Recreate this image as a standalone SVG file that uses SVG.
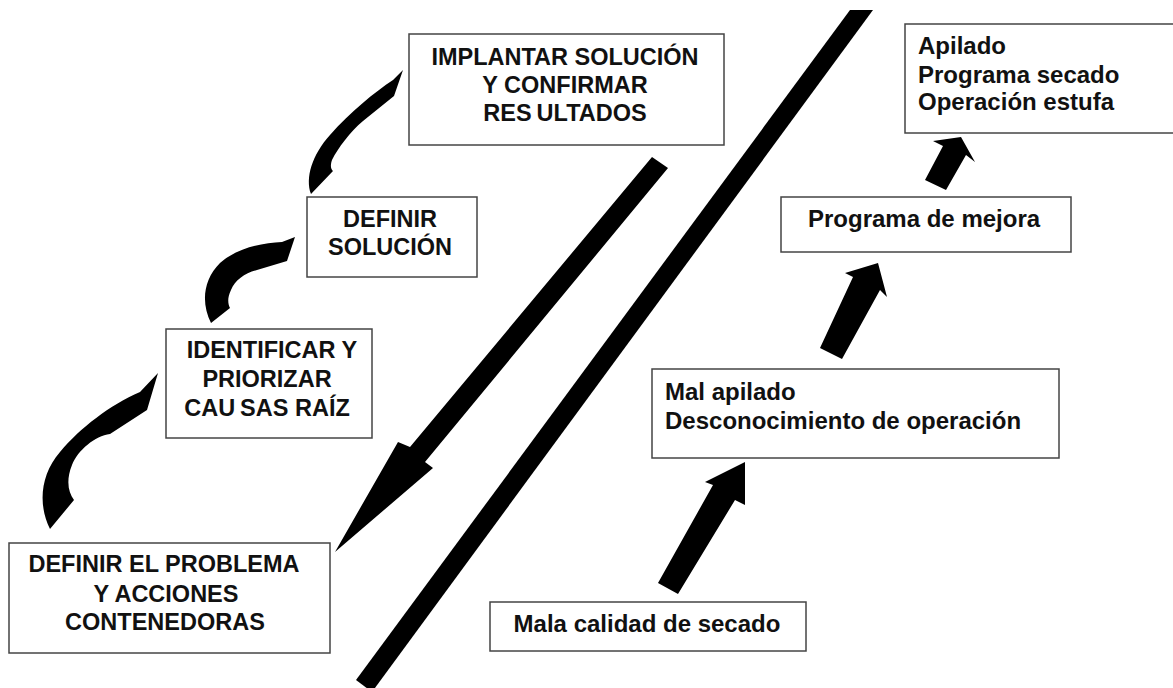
<svg xmlns="http://www.w3.org/2000/svg" width="1173" height="688" viewBox="0 0 1173 688">
<style>
.box{fill:#fff;stroke:#444;stroke-width:1.5}
.t{font-family:"Liberation Sans",Arial,sans-serif;font-weight:bold;fill:#111}
.c{text-anchor:middle;font-size:23.5px}
.l{font-size:24px}
.blk{fill:#000}
</style>
<rect width="1173" height="688" fill="#fff"/>
<g id="connectors">
<polygon id="slash" class="blk" points="850,10 873,10 372,692 356,680"/>
<polygon id="big-arrow" class="blk" points="652,157 668,168 425,462 433,468 335,552 398,442 410,447"/>
<path id="curve1" class="blk" d="M50,529 C38,505 40,475 60,452 C80,428 110,405 140,392 L158,373 L147,410 L110,434 C95,436 78,450 72,465 C66,480 68,492 74,500 Z"/>
<path id="curve2" class="blk" d="M211,323 C201,303 203,280 220,263 C237,248 262,243 282,242 L295,237 L287,261 L257,270 C245,273 235,280 231,290 C227,298 228,304 230,308 Z"/>
<path id="curve3" class="blk" d="M311,194 C305,178 312,155 330,135 C350,112 375,92 393,80 L403,70 L394,96 L363,121 C350,132 338,148 332,160 C330,166 331,169 333,171 Z"/>
<polygon id="up1" class="blk" points="658,583 678,594 735,500 745,505 745,462 705,482 713,485"/>
<polygon id="up2" class="blk" points="820,348 842,359 880,290 887,297 878,263 845,273 853,277"/>
<polygon id="up3" class="blk" points="925,180 946,190 966,155 975,162 961,137 933,141 943,146"/>
</g>
<g id="implantar">
<rect class="box" x="409" y="34" width="315" height="111"/>
<text class="t c" x="565" y="65">IMPLANTAR SOLUCIÓN</text>
<text class="t c" x="565" y="93">Y CONFIRMAR</text>
<text class="t c" x="565" y="121">RES<tspan dx="5">ULTADOS</tspan></text>
</g>
<g id="definir-solucion">
<rect class="box" x="307" y="197" width="170" height="80"/>
<text class="t c" x="390" y="227">DEFINIR</text>
<text class="t c" x="390" y="255">SOLUCIÓN</text>
</g>
<g id="identificar">
<rect class="box" x="166" y="329" width="206" height="109"/>
<text class="t c" x="272" y="358">IDENTIFICAR Y</text>
<text class="t c" x="267" y="387">PRIORIZAR</text>
<text class="t c" x="267" y="416">CAU<tspan dx="5">SAS RAÍZ</tspan></text>
</g>
<g id="definir-problema">
<rect class="box" x="9" y="543" width="321" height="110"/>
<text class="t c" x="164" y="572">DEFINIR EL PROBLEMA</text>
<text class="t c" x="166" y="602">Y ACCIONES</text>
<text class="t c" x="165" y="630">CONTENEDORAS</text>
</g>
<g id="mala-calidad">
<rect class="box" x="490" y="602" width="316" height="49"/>
<text class="t l" x="647" y="632" text-anchor="middle">Mala calidad de secado</text>
</g>
<g id="mal-apilado">
<rect class="box" x="652" y="369" width="407" height="89"/>
<text class="t l" x="665" y="400">Mal apilado</text>
<text class="t l" x="665" y="429">Desconocimiento de operación</text>
</g>
<g id="programa-mejora">
<rect class="box" x="781" y="197" width="290" height="55"/>
<text class="t l" x="808" y="227">Programa de mejora</text>
</g>
<g id="apilado">
<rect class="box" x="905" y="24" width="280" height="109"/>
<text class="t l" x="918" y="54">Apilado</text>
<text class="t l" x="918" y="83">Programa secado</text>
<text class="t l" x="918" y="110">Operación estufa</text>
</g>
</svg>
